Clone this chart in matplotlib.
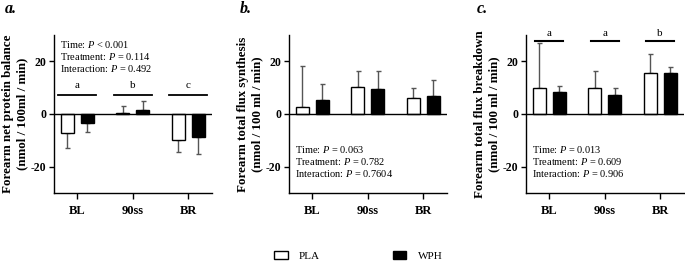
import numpy as np
import matplotlib
matplotlib.use('Agg')
import matplotlib.pyplot as plt
from matplotlib.patches import Patch

plt.rcParams['font.family'] = ['Liberation Serif', 'DejaVu Serif']
plt.rcParams['mathtext.fontset'] = 'custom'
plt.rcParams['mathtext.it'] = 'Liberation Serif:italic'
plt.rcParams['mathtext.rm'] = 'Liberation Serif'
plt.rcParams['axes.unicode_minus'] = False

## data
times = ['BL', '90ss', 'BR']

nb_pla = [-7.3, 0.4, -9.8]
nb_pla_sd = [5.7, 2.7, 4.7]
nb_wph = [-3.4, 1.6, -8.8]
nb_wph_sd = [3.6, 3.5, 6.5]

syn_pla = [2.6, 10.4, 6.1]
syn_pla_sd = [15.7, 5.8, 3.8]
syn_wph = [5.2, 9.4, 7.0]
syn_wph_sd = [6.3, 6.8, 5.9]

bd_pla = [9.8, 9.8, 15.7]
bd_pla_sd = [17.0, 6.5, 6.9]
bd_wph = [8.3, 7.4, 15.7]
bd_wph_sd = [2.5, 2.4, 2.1]

stats_a = ['Time: $P$ < 0.001', 'Treatment: $P$ = 0.114', 'Interaction: $P$ = 0.492']
stats_b = ['Time: $P$ = 0.063', 'Treatment: $P$ = 0.782', 'Interaction: $P$ = 0.7604']
stats_c = ['Time: $P$ = 0.013', 'Treatment: $P$ = 0.609', 'Interaction: $P$ = 0.906']

letters_a = ['a', 'b', 'c']
letters_c = ['a', 'a', 'b']

ylabels = ['Forearm net protein balance\n(nmol / 100ml / min)',
           'Forearm total flux synthesis\n(nmol / 100 ml / min)',
           'Forearm total flux breakdown\n(nmol / 100 ml / min)']
panel_tags = ['a.', 'b.', 'c.']


def draw_bars(ax, vals, sds, offset, fc):
    x = np.arange(len(vals)) + offset
    vals = np.array(vals)
    sds = np.array(sds)
    ax.bar(x, vals, width=0.24, color=fc, edgecolor='black', linewidth=1.0, zorder=3)
    # one-sided error bars, pointing away from zero
    lo = np.where(vals < 0, sds, 0)
    hi = np.where(vals >= 0, sds, 0)
    ax.errorbar(x, vals, yerr=[lo, hi], fmt='none', ecolor='#555555',
                elinewidth=1.0, capsize=1.8, capthick=1.0, zorder=2)


fig = plt.figure(figsize=(6.85, 2.62), dpi=100)
lefts = [54 / 685, 289 / 685, 526 / 685]
axes = [fig.add_axes([l, 0.2634, 0.2307, 0.603]) for l in lefts]

datasets = [(nb_pla, nb_pla_sd, nb_wph, nb_wph_sd),
            (syn_pla, syn_pla_sd, syn_wph, syn_wph_sd),
            (bd_pla, bd_pla_sd, bd_wph, bd_wph_sd)]

for i, ax in enumerate(axes):
    p, psd, w, wsd = datasets[i]
    draw_bars(ax, p, psd, -0.18, 'white')
    draw_bars(ax, w, wsd, 0.18, 'black')
    ax.axhline(0, color='black', linewidth=1.0, zorder=4)
    ax.set_xlim(-0.42, 2.43)
    ax.set_ylim(-30, 30)
    ax.set_yticks([-20, 0, 20])
    ax.set_xticks(range(3))
    ax.set_xticklabels(times, fontweight='bold', fontsize=9)
    for lab in ax.get_yticklabels():
        lab.set_fontweight('bold')
        lab.set_fontsize(8.5)
    ax.tick_params(width=1.0, length=3.5, pad=2)
    ax.tick_params(axis='x', length=4, pad=5)
    for s in ['top', 'right']:
        ax.spines[s].set_visible(False)
    for s in ['left', 'bottom']:
        ax.spines[s].set_linewidth(1.0)
    ax.set_ylabel(ylabels[i], fontweight='bold', fontsize=9.4, labelpad=2, linespacing=1.25)
    fig.text(lefts[i] - 0.072, 0.966, panel_tags[i], fontsize=11.5,
             fontweight='bold', fontstyle='italic', va='center')

# stats text
for j, t in enumerate(stats_a):
    axes[0].text(0.04, 0.975 - j * 0.075, t, transform=axes[0].transAxes,
                 fontsize=7.5, va='top')
for ax, st in [(axes[1], stats_b), (axes[2], stats_c)]:
    for j, t in enumerate(st):
        ax.text(0.04, 0.275 - j * 0.075, t, transform=ax.transAxes,
                fontsize=7.5, va='center')

# significance letters
for k, l in enumerate(letters_a):
    axes[0].plot([k - 0.34, k + 0.34], [7.4, 7.4], color='black', lw=1.3)
    axes[0].text(k, 9, l, ha='center', va='bottom', fontsize=8)
for k, l in enumerate(letters_c):
    axes[2].plot([k - 0.25, k + 0.25], [27.6, 27.6], color='black', lw=1.5, clip_on=False)
    axes[2].text(k, 28.8, l, ha='center', va='bottom', fontsize=8, clip_on=False)

handles = [Patch(facecolor='white', edgecolor='black', linewidth=1.0, label='PLA'),
           Patch(facecolor='black', edgecolor='black', linewidth=1.0, label='WPH')]
fig.legend(handles=handles, loc='center', bbox_to_anchor=(0.523, 0.024), ncol=2,
           frameon=False, fontsize=8, handlelength=1.2, handleheight=0.8,
           columnspacing=6.6, handletextpad=1.0, borderpad=0)

fig.savefig('out.png', dpi=100)
